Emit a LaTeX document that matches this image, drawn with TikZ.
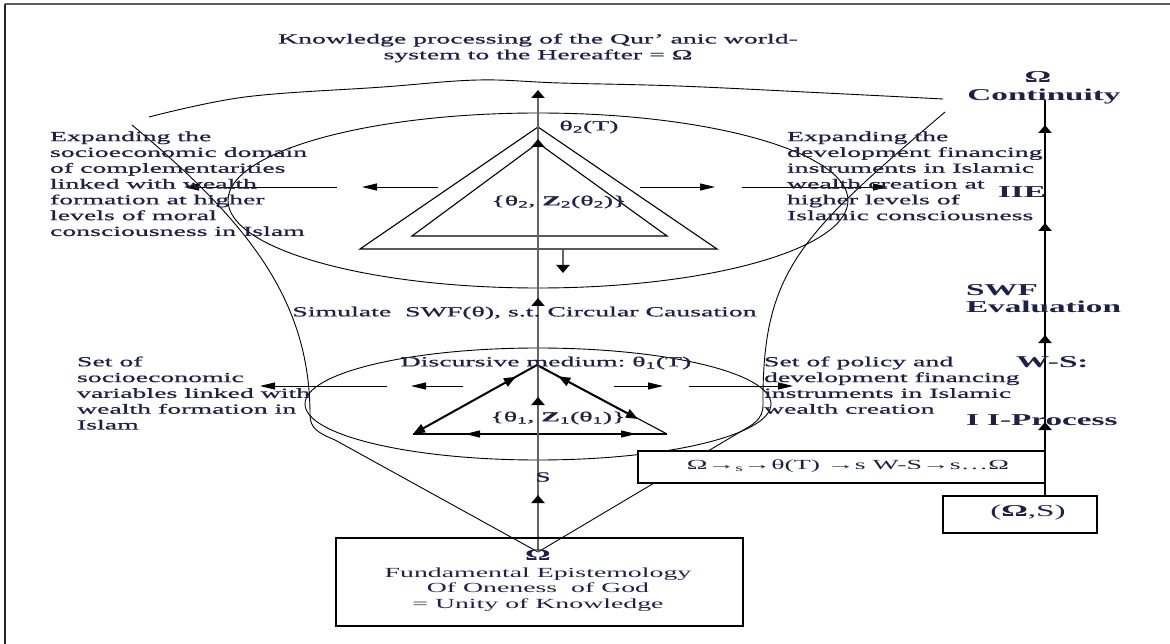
\documentclass[tikz,border=0pt]{standalone}
\usepackage{fontspec}
\setmainfont{Liberation Serif}[FakeStretch=2.0]
\newfontfamily\bodyfont{Liberation Serif}[FakeStretch=2.0,FakeBold=0.8]
\usetikzlibrary{arrows.meta,decorations.markings}
\definecolor{ink}{RGB}{30,32,72}
\definecolor{framegray}{RGB}{95,95,95}
\definecolor{axisgray}{RGB}{100,100,100}
\tikzset{
  htip/.tip={Triangle[length=15pt,width=7pt]},
  vtip/.tip={Triangle[length=8pt,width=13pt,color=black]},
  dtip/.tip={Triangle[length=12pt,width=9pt]},
}
\begin{document}
\frenchspacing
\begin{tikzpicture}[x=1pt,y=-1pt,
  every node/.style={inner sep=0pt,outer sep=0pt,text=ink},
  bodytext/.style={font=\bodyfont\fontsize{13.9}{15.8}\selectfont},
  boxtext/.style={font=\fontsize{13.9}{15.6}\selectfont},
  sidelabel/.style={font=\fontsize{16.6}{19}\selectfont\bfseries},
  thinstroke/.style={line width=0.9pt,draw=black},
  triline/.style={line width=1.1pt,draw=black},
  thickedge/.style={line width=2pt,draw=black},
  harrow/.style={line width=0.9pt,draw=black,-{htip}},
  midmarks/.style={postaction={decorate},decoration={markings,#1}},
  framebox/.style={draw=black,line width=1.1pt,fill=white},
]
\useasboundingbox (0,0) rectangle (1170,644);
\fill[white] (0,0) rectangle (1170,644);

% page frame: top rule and left rule
\coordinate (ftl) at (5,4);
\coordinate (ftr) at (1170,4);
\coordinate (fbl) at (5,644);
\draw[framegray,line width=2.4pt] (ftr) -- (ftl);
\draw[black!85,line width=2pt] (ftl) -- (fbl);

% title
\node[bodytext,align=center] (title) at (538,48)
  {Knowledge processing of the Qur’ anic world-\\system to the Hereafter = Ω};

% wavy upper rim of the vessel
\draw[thinstroke] plot[smooth,tension=0.6] coordinates
  {(149,117) (245,97) (383,87) (478,80) (560,83) (678,86) (825,93) (943,99)};

% the two ellipses
\draw[thinstroke] (538,200.5) ellipse [x radius=310pt,y radius=87.5pt];
\draw[thinstroke] (538,404) ellipse [x radius=233pt,y radius=56pt];

% sides of the vessel converging on Omega
\coordinate (conv) at (538,552);
\draw[thinstroke] (132,125) .. controls (248,222) and (310,300) .. (310,415)
  .. controls (310,428) and (318,433) .. (335,440) -- (conv);
\draw[thinstroke] (945,112) .. controls (800,236) and (762,270) .. (763,405)
  .. controls (763,420) and (752,425) .. (740,432) -- (conv);

% upper nested triangles
\coordinate (oA) at (538,127); \coordinate (oB) at (717,249); \coordinate (oC) at (360,249);
\coordinate (iA) at (538,143); \coordinate (iB) at (667,236); \coordinate (iC) at (412,236);
\draw[triline] (oA) -- (oB) -- (oC) -- cycle;
\draw[triline] (iA) -- (iB) -- (iC) -- cycle;

% lower triangle with arrowed edges
\coordinate (lap) at (537,365);
\coordinate (lbl) at (413,434);
\coordinate (lbr) at (667,434);
\coordinate (rmid) at (638,419);
\draw[thickedge,{dtip}-,midmarks={mark=at position 0.83 with {\arrow{dtip}}}] (lbl) -- (lap);
\draw[triline] (lap) -- (lbr);
\draw[thickedge,-{dtip},midmarks={mark=at position 0.21 with {\arrowreversed{dtip}}}] (lap) -- (rmid);
\draw[triline,midmarks={mark=at position 0.205 with {\arrowreversed{htip}},
  mark=at position 0.878 with {\arrow{htip}}}] (lbl) -- (lbr);

% horizontal spreading arrows
\foreach \n/\xa/\xb/\y in {ua/438/362/187, ub/337/184/187, uc/640/715/187, ud/742/888/187,
                            la/463/411/386, lb/387/260/386, lc/614/663/386, ld/689/793/386}{
  \coordinate (\n s) at (\xa,\y);
  \coordinate (\n e) at (\xb,\y);
  \draw[harrow] (\n s) -- (\n e);
}

% short downward arrow under the upper triangle
\coordinate (dn1) at (563,250);
\coordinate (dn2) at (563,273);
\draw[axisgray,line width=2pt,-{vtip}] (dn1) -- (dn2);

% central axis from Omega upwards
\coordinate (ctop) at (538,90);
\draw[axisgray,line width=2pt,-{vtip},
  midmarks={mark=at position 57pt with {\arrow{vtip}},
            mark=at position 155pt with {\arrow{vtip}},
            mark=at position 254pt with {\arrow{vtip}},
            mark=at position 413pt with {\arrow{vtip}}}] (conv) -- (ctop);

% boxes
\node[draw=black,line width=1.1pt,minimum width=407pt,minimum height=88pt] (epibox) at (539.5,582) {};
\node[framebox,minimum width=407pt,minimum height=32pt] (flow) at (841.5,467) {};
\node[framebox,minimum width=154pt,minimum height=37pt] (wsbox) at (1020,514.5) {};

% right-hand process column
\coordinate (rtop) at (1045,100);
\draw[black,line width=2pt,
  midmarks={mark=at position 74pt with {\arrow{vtip}},
            mark=at position 161pt with {\arrow{vtip}},
            mark=at position 273pt with {\arrow{vtip}},
            mark=at position 371pt with {\arrow{vtip}}}] (wsbox.north -| rtop) -- (rtop);

% texts inside the boxes
\node[font=\fontsize{16}{18}\selectfont\bfseries] (omega) at (538,555) {Ω};
\node[boxtext,align=center] (epitext) at (538,589.5)
  {Fundamental Epistemology\\Of Oneness~~of God\\= Unity of Knowledge};
\node[boxtext] (flowtext) at (848,466) {Ω→\textsubscript{s}→θ(T) →s W-S→s…Ω};
\node[font=\fontsize{16.6}{19}\selectfont] (wstext) at (1028,513) {(\textbf{Ω},S)};

% labels of the central construction
\node[bodytext] (th2T) at (589,127) {θ\textsubscript{2}(T)};
\node[bodytext] (set2) at (559,202) {\{θ\textsubscript{2}, \textbf{Z}\textsubscript{2}(θ\textsubscript{2})\}};
\node[bodytext] (sim) at (524.5,313) {Simulate~~SWF(θ), s.t. Circular Causation};
\node[bodytext] (disc) at (546,363) {Discursive medium: θ\textsubscript{1}(T)};
\node[bodytext] (set1) at (558,418) {\{θ\textsubscript{1}, \textbf{Z}\textsubscript{1}(θ\textsubscript{1})\}};
\node[bodytext] (slab) at (543,477) {S};

% side descriptions
\node[bodytext,align=left,anchor=north west] (ul) at (50,131.5)
  {Expanding the\\socioeconomic domain\\of complementarities\\linked with wealth\\formation at higher\\levels of moral\\consciousness in Islam};
\node[bodytext,align=left,anchor=north west] (ur) at (787,131.5)
  {Expanding the\\development financing\\instruments in Islamic\\wealth creation at\\higher levels of\\Islamic consciousness};
\node[bodytext,align=left,anchor=north west] (ll) at (77,356.5)
  {Set of\\socioeconomic\\variables linked with\\wealth formation in\\Islam};
\node[bodytext,align=left,anchor=north west] (lr) at (764,356.5)
  {Set of policy and\\development financing\\instruments in Islamic\\wealth creation};

% right-hand stage labels
\node[sidelabel] (omg) at (1038,77) {Ω};
\node[sidelabel] (cont) at (1044,97) {Continuity};
\node[sidelabel,anchor=east] (iie) at (1046,192) {IIE};
\node[sidelabel,anchor=west] (swf) at (966,290) {SWF};
\node[sidelabel,anchor=west] (eval) at (966,307) {Evaluation};
\node[sidelabel,anchor=west] (ws) at (1016,362) {W-S:};
\node[sidelabel,anchor=west] (iip) at (966,420) {I I-Process};
\end{tikzpicture}
\end{document}
